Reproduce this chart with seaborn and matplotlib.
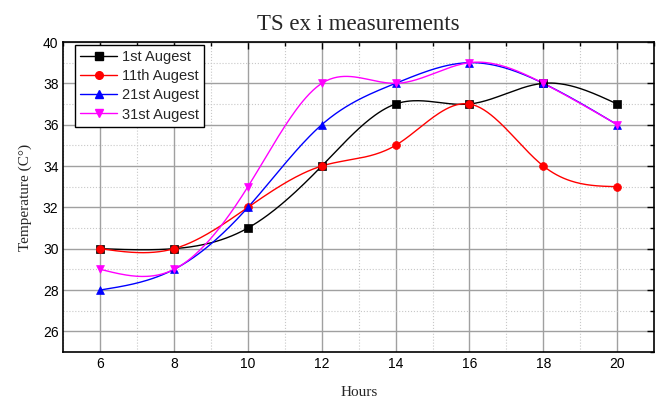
import numpy as np
import pandas as pd
import matplotlib
matplotlib.use("Agg")
import matplotlib.pyplot as plt
import seaborn as sns
from matplotlib.lines import Line2D
from matplotlib.ticker import MultipleLocator

hours = [6, 8, 10, 12, 14, 16, 18, 20]
aug_1 = [30, 30, 31, 34, 37, 37, 38, 37]
aug_11 = [30, 30, 32, 34, 35, 37, 34, 33]
aug_21 = [28, 29, 32, 36, 38, 39, 38, 36]
aug_31 = [29, 29, 33, 38, 38, 39, 38, 36]
labels = ["1st Augest", "11th Augest", "21st Augest", "31st Augest"]


def natural_spline(x, y, n=300):
    # smooth curve through the points (natural cubic spline)
    x = np.asarray(x, float)
    y = np.asarray(y, float)
    h = np.diff(x)
    m = len(x)
    A = np.zeros((m, m))
    b = np.zeros(m)
    A[0, 0] = A[-1, -1] = 1
    for i in range(1, m - 1):
        A[i, i - 1] = h[i - 1]
        A[i, i] = 2 * (h[i - 1] + h[i])
        A[i, i + 1] = h[i]
        b[i] = 3 * ((y[i + 1] - y[i]) / h[i] - (y[i] - y[i - 1]) / h[i - 1])
    c = np.linalg.solve(A, b)
    xs = np.linspace(x[0], x[-1], n)
    idx = np.clip(np.searchsorted(x, xs) - 1, 0, m - 2)
    dx = xs - x[idx]
    hi = h[idx]
    bb = (y[idx + 1] - y[idx]) / hi - hi * (2 * c[idx] + c[idx + 1]) / 3
    dd = (c[idx + 1] - c[idx]) / (3 * hi)
    ys = y[idx] + bb * dx + c[idx] * dx ** 2 + dd * dx ** 3
    return xs, ys


sns.set_style("white")
plt.rcParams["font.family"] = ["Liberation Sans", "DejaVu Sans"]

fig, ax = plt.subplots(figsize=(6.6, 4.0), dpi=100)
fig.subplots_adjust(left=0.096, right=0.991, top=0.895, bottom=0.12)

series = [aug_1, aug_11, aug_21, aug_31]
colors = ["black", "red", "blue", "magenta"]
markers = ["s", "o", "^", "v"]
handles = []
for vals, lab, col, mk in zip(series, labels, colors, markers):
    xs, ys = natural_spline(hours, vals)
    sns.lineplot(x=xs, y=ys, color=col, linewidth=1.0, ax=ax, sort=False, zorder=3)
    sns.scatterplot(x=hours, y=vals, color=col, marker=mk, s=32, edgecolor=col,
                    linewidth=0.5, ax=ax, zorder=4)
    handles.append(Line2D([], [], color=col, marker=mk, markersize=5.5, linewidth=1.0))

ax.set_xlim(5, 21)
ax.set_ylim(25, 40)
ax.xaxis.set_major_locator(MultipleLocator(2))
ax.xaxis.set_minor_locator(MultipleLocator(1))
ax.yaxis.set_major_locator(MultipleLocator(2))
ax.yaxis.set_minor_locator(MultipleLocator(1))
ax.grid(which="major", color="#a0a0a0", linewidth=1.0, linestyle="-")
ax.grid(which="minor", color="#c8c8c8", linewidth=0.8, linestyle=":")
ax.set_axisbelow(True)
ax.tick_params(which="both", direction="in", top=True, right=True, colors="black",
               labelsize=10)
ax.tick_params(which="major", length=5, width=1)
ax.tick_params(which="minor", length=3, width=1)
ax.set_yticks([26, 28, 30, 32, 34, 36, 38, 40])
for sp in ax.spines.values():
    sp.set_color("black")
    sp.set_linewidth(1.2)

ax.set_title("TS ex i measurements", family="Liberation Serif", fontsize=16.5, pad=9)
ax.set_xlabel("Hours", family="Liberation Serif", fontsize=11, labelpad=11)
ax.set_ylabel("Temperature (C°)", family="Liberation Serif", fontsize=11, labelpad=8)

leg = ax.legend(handles, labels, loc="upper left", bbox_to_anchor=(0.02, 0.99),
                borderaxespad=0, fontsize=10.5, frameon=True, fancybox=False,
                edgecolor="black", framealpha=1, borderpad=0.35, labelspacing=0.35,
                handlelength=2.5, handletextpad=0.35)
leg.get_frame().set_linewidth(1.0)

fig.savefig("out.png", dpi=100)
